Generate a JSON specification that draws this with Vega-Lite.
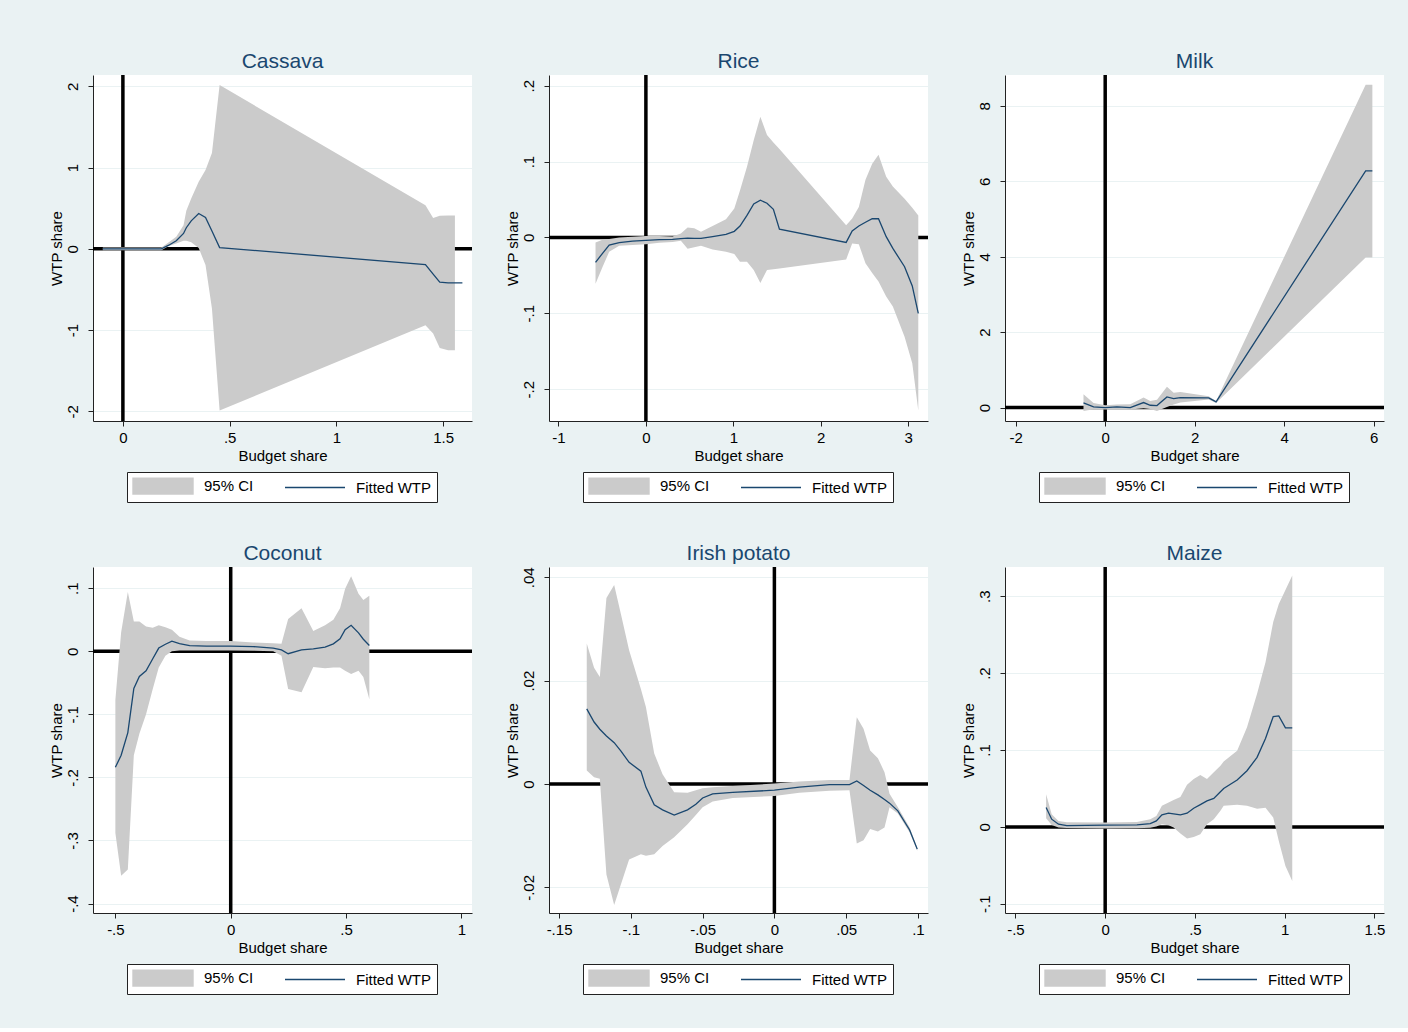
{
  "$schema": "https://vega.github.io/schema/vega-lite/v6.json",
  "background": "#eaf2f3",
  "padding": {"left": 49, "top": 51, "right": 24, "bottom": 33},
  "config": {
    "font": "Liberation Sans",
    "view": {"fill": "white", "stroke": null},
    "axis": {"labelFontSize": 15, "titleFontSize": 15, "titleFontWeight": "normal", "labelColor": "black", "titleColor": "black", "domainColor": "#222222", "tickColor": "#222222", "tickSize": 5, "gridColor": "#eaf2f3", "labelPadding": 4, "titlePadding": 3, "labelFlush": false, "labelOverlap": false},
    "axisX": {"grid": false},
    "axisY": {"grid": true, "labelAngle": -90, "labelAlign": "center", "labelBaseline": "bottom", "labelPadding": 8, "titlePadding": 1},
    "title": {"fontSize": 21, "fontWeight": "normal", "color": "#1a476f", "offset": 1, "anchor": "middle", "frame": "group"},
    "legend": {"orient": "none", "legendX": 34, "legendY": 397, "direction": "horizontal", "title": null, "strokeColor": "#222222", "fillColor": "white", "padding": 5, "labelFontSize": 15, "labelColor": "black", "labelOffset": 54, "columnPadding": 28, "symbolSize": 256}
  },
  "datasets": {
    "cassava": [
      {"x": -0.094, "fit": 0, "lo": -0.016, "hi": 0.016},
      {"x": 0.0, "fit": 0, "lo": -0.016, "hi": 0.016},
      {"x": 0.09, "fit": 0, "lo": -0.016, "hi": 0.016},
      {"x": 0.18, "fit": 0, "lo": -0.016, "hi": 0.016},
      {"x": 0.215, "fit": 0.045, "lo": 0.035, "hi": 0.08},
      {"x": 0.25, "fit": 0.1, "lo": 0.066, "hi": 0.15},
      {"x": 0.284, "fit": 0.19, "lo": 0.1, "hi": 0.29},
      {"x": 0.297, "fit": 0.26, "lo": 0.1, "hi": 0.47},
      {"x": 0.32, "fit": 0.345, "lo": 0.08, "hi": 0.62},
      {"x": 0.355, "fit": 0.435, "lo": 0.01, "hi": 0.825},
      {"x": 0.387, "fit": 0.386, "lo": -0.2, "hi": 0.97},
      {"x": 0.417, "fit": 0.22, "lo": -0.735, "hi": 1.18},
      {"x": 0.453, "fit": 0.016, "lo": -1.99, "hi": 2.015},
      {"x": 1.417, "fit": -0.193, "lo": -0.94, "hi": 0.538},
      {"x": 1.453, "fit": -0.312, "lo": -1.04, "hi": 0.38},
      {"x": 1.484, "fit": -0.41, "lo": -1.22, "hi": 0.406},
      {"x": 1.523, "fit": -0.419, "lo": -1.248, "hi": 0.41},
      {"x": 1.555, "fit": -0.419, "lo": -1.248, "hi": 0.41},
      {"x": 1.59, "fit": -0.419, "lo": null, "hi": null}
    ],
    "rice": [
      {"x": -0.576, "fit": -0.033, "lo": -0.061, "hi": -0.0066},
      {"x": -0.496, "fit": -0.021, "lo": -0.039, "hi": -0.003},
      {"x": -0.42, "fit": -0.010, "lo": -0.019, "hi": -0.002},
      {"x": -0.305, "fit": -0.007, "lo": -0.011, "hi": 0.000},
      {"x": -0.153, "fit": -0.005, "lo": -0.010, "hi": 0.001},
      {"x": 0, "fit": -0.004, "lo": -0.009, "hi": 0.002},
      {"x": 0.153, "fit": -0.003, "lo": -0.007, "hi": 0.0018},
      {"x": 0.305, "fit": -0.0026, "lo": -0.006, "hi": 0.0013},
      {"x": 0.4, "fit": -0.0015, "lo": -0.0044, "hi": 0.005},
      {"x": 0.477, "fit": -0.001, "lo": -0.015, "hi": 0.013},
      {"x": 0.553, "fit": -0.0012, "lo": -0.013, "hi": 0.012},
      {"x": 0.63, "fit": -0.0013, "lo": -0.011, "hi": 0.0075},
      {"x": 0.763, "fit": 0.001, "lo": -0.016, "hi": 0.015},
      {"x": 0.916, "fit": 0.004, "lo": -0.019, "hi": 0.024},
      {"x": 1.011, "fit": 0.008, "lo": -0.022, "hi": 0.038},
      {"x": 1.076, "fit": 0.015, "lo": -0.032, "hi": 0.062},
      {"x": 1.156, "fit": 0.029, "lo": -0.032, "hi": 0.093},
      {"x": 1.233, "fit": 0.044, "lo": -0.043, "hi": 0.128},
      {"x": 1.309, "fit": 0.049, "lo": -0.060, "hi": 0.159},
      {"x": 1.385, "fit": 0.045, "lo": -0.043, "hi": 0.135},
      {"x": 1.458, "fit": 0.037, "lo": -0.042, "hi": 0.125},
      {"x": 1.527, "fit": 0.011, "lo": -0.041, "hi": 0.1165},
      {"x": 2.29, "fit": -0.0066, "lo": -0.029, "hi": 0.016},
      {"x": 2.359, "fit": 0.0084, "lo": -0.008, "hi": 0.025},
      {"x": 2.435, "fit": 0.015, "lo": -0.009, "hi": 0.040},
      {"x": 2.511, "fit": 0.020, "lo": -0.034, "hi": 0.076},
      {"x": 2.588, "fit": 0.0246, "lo": -0.047, "hi": 0.097},
      {"x": 2.66, "fit": 0.0246, "lo": -0.058, "hi": 0.109},
      {"x": 2.748, "fit": 0.001, "lo": -0.078, "hi": 0.080},
      {"x": 2.824, "fit": -0.0145, "lo": -0.091, "hi": 0.067},
      {"x": 2.958, "fit": -0.0387, "lo": -0.131, "hi": 0.051},
      {"x": 3.046, "fit": -0.064, "lo": -0.166, "hi": 0.039},
      {"x": 3.115, "fit": -0.100, "lo": -0.228, "hi": 0.029}
    ],
    "milk": [
      {"x": -0.485, "fit": 0.124, "lo": -0.088, "hi": 0.354},
      {"x": -0.26, "fit": 0.018, "lo": -0.044, "hi": 0.124},
      {"x": 0, "fit": 0, "lo": -0.053, "hi": 0.062},
      {"x": 0.26, "fit": 0.018, "lo": -0.05, "hi": 0.08},
      {"x": 0.56, "fit": 0, "lo": -0.053, "hi": 0.088},
      {"x": 0.858, "fit": 0.133, "lo": -0.018, "hi": 0.265},
      {"x": 1.007, "fit": 0.062, "lo": -0.035, "hi": 0.177},
      {"x": 1.157, "fit": 0.053, "lo": -0.088, "hi": 0.21},
      {"x": 1.38, "fit": 0.283, "lo": 0.018, "hi": 0.55},
      {"x": 1.53, "fit": 0.239, "lo": 0.08, "hi": 0.39},
      {"x": 1.68, "fit": 0.265, "lo": 0.133, "hi": 0.41},
      {"x": 2.313, "fit": 0.257, "lo": 0.212, "hi": 0.30},
      {"x": 2.478, "fit": 0.150, "lo": 0.124, "hi": 0.177},
      {"x": 5.82, "fit": 6.28, "lo": 3.98, "hi": 8.56},
      {"x": 5.97, "fit": 6.28, "lo": 3.98, "hi": 8.56}
    ],
    "coconut": [
      {"x": -0.5, "fit": -0.184, "lo": -0.288, "hi": -0.077},
      {"x": -0.475, "fit": -0.165, "lo": -0.356, "hi": 0.030},
      {"x": -0.446, "fit": -0.129, "lo": -0.346, "hi": 0.094},
      {"x": -0.42, "fit": -0.059, "lo": -0.165, "hi": 0.047},
      {"x": -0.396, "fit": -0.040, "lo": -0.131, "hi": 0.047},
      {"x": -0.367, "fit": -0.031, "lo": -0.100, "hi": 0.039},
      {"x": -0.338, "fit": -0.012, "lo": -0.060, "hi": 0.037},
      {"x": -0.312, "fit": 0.005, "lo": -0.026, "hi": 0.041},
      {"x": -0.283, "fit": 0.011, "lo": -0.007, "hi": 0.038},
      {"x": -0.255, "fit": 0.016, "lo": 0.000, "hi": 0.034},
      {"x": -0.222, "fit": 0.012, "lo": 0.001, "hi": 0.023},
      {"x": -0.178, "fit": 0.009, "lo": 0.001, "hi": 0.017},
      {"x": -0.106, "fit": 0.008, "lo": 0.001, "hi": 0.016},
      {"x": 0, "fit": 0.008, "lo": 0.001, "hi": 0.016},
      {"x": 0.097, "fit": 0.0074, "lo": 0.0008, "hi": 0.014},
      {"x": 0.184, "fit": 0.005, "lo": 0.000, "hi": 0.0127},
      {"x": 0.22, "fit": 0.002, "lo": -0.007, "hi": 0.0117},
      {"x": 0.249, "fit": -0.004, "lo": -0.060, "hi": 0.051},
      {"x": 0.307, "fit": 0.002, "lo": -0.065, "hi": 0.068},
      {"x": 0.358, "fit": 0.0037, "lo": -0.025, "hi": 0.032},
      {"x": 0.409, "fit": 0.0064, "lo": -0.027, "hi": 0.041},
      {"x": 0.445, "fit": 0.0117, "lo": -0.026, "hi": 0.050},
      {"x": 0.474, "fit": 0.0196, "lo": -0.026, "hi": 0.068},
      {"x": 0.496, "fit": 0.034, "lo": -0.031, "hi": 0.099},
      {"x": 0.522, "fit": 0.041, "lo": -0.036, "hi": 0.119},
      {"x": 0.554, "fit": 0.029, "lo": -0.031, "hi": 0.091},
      {"x": 0.575, "fit": 0.019, "lo": -0.041, "hi": 0.081},
      {"x": 0.601, "fit": 0.009, "lo": -0.076, "hi": 0.088}
    ],
    "potato": [
      {"x": -0.1307, "fit": 0.01455, "lo": 0.0026, "hi": 0.0272},
      {"x": -0.1256, "fit": 0.012, "lo": 0.0013, "hi": 0.0225},
      {"x": -0.1216, "fit": 0.0106, "lo": 0.001, "hi": 0.0207},
      {"x": -0.117, "fit": 0.0093, "lo": -0.0175, "hi": 0.036},
      {"x": -0.1116, "fit": 0.0080, "lo": -0.0234, "hi": 0.0385},
      {"x": -0.107, "fit": 0.0064, "lo": -0.0195, "hi": 0.033},
      {"x": -0.1012, "fit": 0.0042, "lo": -0.0146, "hi": 0.0259},
      {"x": -0.093, "fit": 0.0025, "lo": -0.0136, "hi": 0.0184},
      {"x": -0.0895, "fit": -0.0006, "lo": -0.0139, "hi": 0.0149},
      {"x": -0.0837, "fit": -0.004, "lo": -0.0136, "hi": 0.0059},
      {"x": -0.0779, "fit": -0.005, "lo": -0.012, "hi": 0.0019},
      {"x": -0.0698, "fit": -0.006, "lo": -0.0103, "hi": -0.0016},
      {"x": -0.0605, "fit": -0.005, "lo": -0.0078, "hi": -0.0017},
      {"x": -0.0547, "fit": -0.0039, "lo": -0.006, "hi": -0.0012},
      {"x": -0.05, "fit": -0.0027, "lo": -0.0045, "hi": -0.0008},
      {"x": -0.043, "fit": -0.0019, "lo": -0.0034, "hi": -0.0006},
      {"x": -0.029, "fit": -0.0016, "lo": -0.0027, "hi": -0.0004},
      {"x": 0, "fit": -0.0012, "lo": -0.0023, "hi": 0.0001},
      {"x": 0.0174, "fit": -0.0006, "lo": -0.0017, "hi": 0.0005},
      {"x": 0.0384, "fit": -0.0001, "lo": -0.0013, "hi": 0.0008},
      {"x": 0.0523, "fit": -0.0001, "lo": -0.0012, "hi": 0.0008},
      {"x": 0.0574, "fit": 0.0006, "lo": -0.0115, "hi": 0.0129},
      {"x": 0.0621, "fit": -0.0003, "lo": -0.0109, "hi": 0.0107},
      {"x": 0.0667, "fit": -0.0012, "lo": -0.0087, "hi": 0.0065},
      {"x": 0.0721, "fit": -0.0021, "lo": -0.0092, "hi": 0.005},
      {"x": 0.0767, "fit": -0.003, "lo": -0.0084, "hi": 0.0023},
      {"x": 0.0802, "fit": -0.0037, "lo": -0.0045, "hi": -0.0019},
      {"x": 0.086, "fit": -0.0052, "lo": -0.0057, "hi": -0.0045},
      {"x": 0.0942, "fit": -0.0089, "lo": -0.0094, "hi": -0.0084},
      {"x": 0.0995, "fit": -0.0126, "lo": -0.0129, "hi": -0.0123}
    ],
    "maize": [
      {"x": -0.329, "fit": 0.0252, "lo": 0.0113, "hi": 0.0426},
      {"x": -0.298, "fit": 0.010, "lo": 0.0026, "hi": 0.0165},
      {"x": -0.26, "fit": 0.0035, "lo": -0.0009, "hi": 0.0078},
      {"x": -0.214, "fit": 0.0017, "lo": -0.0015, "hi": 0.006},
      {"x": 0, "fit": 0.0022, "lo": -0.0022, "hi": 0.0057},
      {"x": 0.177, "fit": 0.0026, "lo": -0.0017, "hi": 0.0065},
      {"x": 0.251, "fit": 0.0043, "lo": -0.001, "hi": 0.010},
      {"x": 0.285, "fit": 0.0078, "lo": 0.0005, "hi": 0.0143},
      {"x": 0.316, "fit": 0.0157, "lo": 0.0035, "hi": 0.0274},
      {"x": 0.353, "fit": 0.0178, "lo": 0.002, "hi": 0.0317},
      {"x": 0.381, "fit": 0.017, "lo": -0.0009, "hi": 0.035},
      {"x": 0.419, "fit": 0.0157, "lo": -0.0087, "hi": 0.039},
      {"x": 0.456, "fit": 0.0178, "lo": -0.0152, "hi": 0.0548},
      {"x": 0.493, "fit": 0.0243, "lo": -0.013, "hi": 0.0622},
      {"x": 0.53, "fit": 0.029, "lo": -0.0095, "hi": 0.0674},
      {"x": 0.567, "fit": 0.0339, "lo": 0.0035, "hi": 0.0622},
      {"x": 0.605, "fit": 0.037, "lo": 0.010, "hi": 0.071},
      {"x": 0.642, "fit": 0.0457, "lo": 0.021, "hi": 0.0796},
      {"x": 0.66, "fit": 0.050, "lo": 0.0274, "hi": 0.085},
      {"x": 0.735, "fit": 0.0609, "lo": 0.0287, "hi": 0.099},
      {"x": 0.79, "fit": 0.073, "lo": 0.0274, "hi": 0.1296},
      {"x": 0.846, "fit": 0.0904, "lo": 0.0235, "hi": 0.173},
      {"x": 0.893, "fit": 0.115, "lo": 0.025, "hi": 0.214},
      {"x": 0.936, "fit": 0.1435, "lo": 0.0122, "hi": 0.2665},
      {"x": 0.967, "fit": 0.1443, "lo": -0.0183, "hi": 0.290},
      {"x": 1.004, "fit": 0.1287, "lo": -0.0509, "hi": 0.308},
      {"x": 1.042, "fit": 0.1287, "lo": -0.0704, "hi": 0.327}
    ]
  },
  "columns": 3,
  "spacing": {"row": 40, "column": 31},
  "resolve": {"scale": {"color": "independent", "x": "independent", "y": "independent"}, "legend": {"color": "independent"}},
  "concat": [
    {
      "title": "Cassava", "width": 379, "height": 346, "data": {"name": "cassava"},
      "layer": [
        {"data": {"values": [{}]}, "mark": {"type": "rule", "color": "black", "strokeWidth": 3.5}, "encoding": {"x": {"datum": 0, "type": "quantitative", "scale": {"domain": [-0.14, 1.635], "nice": false, "zero": false}, "axis": {"values": [0, 0.5, 1, 1.5], "title": "Budget share", "labelExpr": "replace(toString(datum.value), '0.', '.')"}}}},
        {"data": {"values": [{}]}, "mark": {"type": "rule", "color": "black", "strokeWidth": 3.5}, "encoding": {"y": {"datum": 0, "type": "quantitative", "scale": {"domain": [-2.118, 2.139], "nice": false, "zero": false}, "axis": {"values": [-2, -1, 0, 1, 2], "title": "WTP share", "labelExpr": "replace(toString(datum.value), '0.', '.')"}}}},
        {"mark": {"type": "area"}, "encoding": {
          "x": {"field": "x", "type": "quantitative", "title": "Budget share"},
          "y": {"field": "lo", "type": "quantitative", "title": "WTP share"},
          "y2": {"field": "hi"},
          "color": {"datum": "95% CI", "type": "nominal", "scale": {"domain": ["95% CI", "Fitted WTP"], "range": ["#cbcbcb", "#1a476f"]}, "legend": {"encode": {"symbols": {"update": {"shape": {"signal": "datum.value === '95% CI' ? 'M-1,-1H6.5V1H-1Z' : 'M-1,0H6.5'"}, "fill": {"signal": "datum.value === '95% CI' ? '#cbcbcb' : 'transparent'"}, "stroke": {"signal": "datum.value === '95% CI' ? 'transparent' : '#1a476f'"}, "strokeWidth": {"value": 1.4}, "opacity": {"value": 1}}}}}}
        }},
        {"mark": {"type": "line", "strokeWidth": 1.3}, "encoding": {
          "x": {"field": "x", "type": "quantitative", "title": "Budget share"},
          "y": {"field": "fit", "type": "quantitative", "title": "WTP share"},
          "color": {"datum": "Fitted WTP", "type": "nominal"}
        }}
      ]
    },
    {
      "title": "Rice", "width": 379, "height": 346, "data": {"name": "rice"},
      "layer": [
        {"data": {"values": [{}]}, "mark": {"type": "rule", "color": "black", "strokeWidth": 3.5}, "encoding": {"x": {"datum": 0, "type": "quantitative", "scale": {"domain": [-1.108, 3.226], "nice": false, "zero": false}, "axis": {"values": [-1, 0, 1, 2, 3], "title": "Budget share", "labelExpr": "replace(toString(datum.value), '0.', '.')"}}}},
        {"data": {"values": [{}]}, "mark": {"type": "rule", "color": "black", "strokeWidth": 3.5}, "encoding": {"y": {"datum": 0, "type": "quantitative", "scale": {"domain": [-0.242, 0.2141], "nice": false, "zero": false}, "axis": {"values": [-0.2, -0.1, 0, 0.1, 0.2], "title": "WTP share", "labelExpr": "replace(toString(datum.value), '0.', '.')"}}}},
        {"mark": {"type": "area"}, "encoding": {
          "x": {"field": "x", "type": "quantitative", "title": "Budget share"},
          "y": {"field": "lo", "type": "quantitative", "title": "WTP share"},
          "y2": {"field": "hi"},
          "color": {"datum": "95% CI", "type": "nominal", "scale": {"domain": ["95% CI", "Fitted WTP"], "range": ["#cbcbcb", "#1a476f"]}, "legend": {"encode": {"symbols": {"update": {"shape": {"signal": "datum.value === '95% CI' ? 'M-1,-1H6.5V1H-1Z' : 'M-1,0H6.5'"}, "fill": {"signal": "datum.value === '95% CI' ? '#cbcbcb' : 'transparent'"}, "stroke": {"signal": "datum.value === '95% CI' ? 'transparent' : '#1a476f'"}, "strokeWidth": {"value": 1.4}, "opacity": {"value": 1}}}}}}
        }},
        {"mark": {"type": "line", "strokeWidth": 1.3}, "encoding": {
          "x": {"field": "x", "type": "quantitative", "title": "Budget share"},
          "y": {"field": "fit", "type": "quantitative", "title": "WTP share"},
          "color": {"datum": "Fitted WTP", "type": "nominal"}
        }}
      ]
    },
    {
      "title": "Milk", "width": 379, "height": 346, "data": {"name": "milk"},
      "layer": [
        {"data": {"values": [{}]}, "mark": {"type": "rule", "color": "black", "strokeWidth": 3.5}, "encoding": {"x": {"datum": 0, "type": "quantitative", "scale": {"domain": [-2.239, 6.23], "nice": false, "zero": false}, "axis": {"values": [-2, 0, 2, 4, 6], "title": "Budget share", "labelExpr": "replace(toString(datum.value), '0.', '.')"}}}},
        {"data": {"values": [{}]}, "mark": {"type": "rule", "color": "black", "strokeWidth": 3.5}, "encoding": {"y": {"datum": 0, "type": "quantitative", "scale": {"domain": [-0.356, 8.82], "nice": false, "zero": false}, "axis": {"values": [0, 2, 4, 6, 8], "title": "WTP share", "labelExpr": "replace(toString(datum.value), '0.', '.')"}}}},
        {"mark": {"type": "area"}, "encoding": {
          "x": {"field": "x", "type": "quantitative", "title": "Budget share"},
          "y": {"field": "lo", "type": "quantitative", "title": "WTP share"},
          "y2": {"field": "hi"},
          "color": {"datum": "95% CI", "type": "nominal", "scale": {"domain": ["95% CI", "Fitted WTP"], "range": ["#cbcbcb", "#1a476f"]}, "legend": {"encode": {"symbols": {"update": {"shape": {"signal": "datum.value === '95% CI' ? 'M-1,-1H6.5V1H-1Z' : 'M-1,0H6.5'"}, "fill": {"signal": "datum.value === '95% CI' ? '#cbcbcb' : 'transparent'"}, "stroke": {"signal": "datum.value === '95% CI' ? 'transparent' : '#1a476f'"}, "strokeWidth": {"value": 1.4}, "opacity": {"value": 1}}}}}}
        }},
        {"mark": {"type": "line", "strokeWidth": 1.3}, "encoding": {
          "x": {"field": "x", "type": "quantitative", "title": "Budget share"},
          "y": {"field": "fit", "type": "quantitative", "title": "WTP share"},
          "color": {"datum": "Fitted WTP", "type": "nominal"}
        }}
      ]
    },
    {
      "title": "Coconut", "width": 379, "height": 346, "data": {"name": "coconut"},
      "layer": [
        {"data": {"values": [{}]}, "mark": {"type": "rule", "color": "black", "strokeWidth": 3.5}, "encoding": {"x": {"datum": 0, "type": "quantitative", "scale": {"domain": [-0.597, 1.046], "nice": false, "zero": false}, "axis": {"values": [-0.5, 0, 0.5, 1], "title": "Budget share", "labelExpr": "replace(toString(datum.value), '0.', '.')"}}}},
        {"data": {"values": [{}]}, "mark": {"type": "rule", "color": "black", "strokeWidth": 3.5}, "encoding": {"y": {"datum": 0, "type": "quantitative", "scale": {"domain": [-0.415, 0.1335], "nice": false, "zero": false}, "axis": {"values": [-0.4, -0.3, -0.2, -0.1, 0, 0.1], "title": "WTP share", "labelExpr": "replace(toString(datum.value), '0.', '.')"}}}},
        {"mark": {"type": "area"}, "encoding": {
          "x": {"field": "x", "type": "quantitative", "title": "Budget share"},
          "y": {"field": "lo", "type": "quantitative", "title": "WTP share"},
          "y2": {"field": "hi"},
          "color": {"datum": "95% CI", "type": "nominal", "scale": {"domain": ["95% CI", "Fitted WTP"], "range": ["#cbcbcb", "#1a476f"]}, "legend": {"encode": {"symbols": {"update": {"shape": {"signal": "datum.value === '95% CI' ? 'M-1,-1H6.5V1H-1Z' : 'M-1,0H6.5'"}, "fill": {"signal": "datum.value === '95% CI' ? '#cbcbcb' : 'transparent'"}, "stroke": {"signal": "datum.value === '95% CI' ? 'transparent' : '#1a476f'"}, "strokeWidth": {"value": 1.4}, "opacity": {"value": 1}}}}}}
        }},
        {"mark": {"type": "line", "strokeWidth": 1.3}, "encoding": {
          "x": {"field": "x", "type": "quantitative", "title": "Budget share"},
          "y": {"field": "fit", "type": "quantitative", "title": "WTP share"},
          "color": {"datum": "Fitted WTP", "type": "nominal"}
        }}
      ]
    },
    {
      "title": "Irish potato", "width": 379, "height": 346, "data": {"name": "potato"},
      "layer": [
        {"data": {"values": [{}]}, "mark": {"type": "rule", "color": "black", "strokeWidth": 3.5}, "encoding": {"x": {"datum": 0, "type": "quantitative", "scale": {"domain": [-0.157, 0.107], "nice": false, "zero": false}, "axis": {"values": [-0.15, -0.1, -0.05, 0, 0.05, 0.1], "title": "Budget share", "labelExpr": "replace(toString(datum.value), '0.', '.')"}}}},
        {"data": {"values": [{}]}, "mark": {"type": "rule", "color": "black", "strokeWidth": 3.5}, "encoding": {"y": {"datum": 0, "type": "quantitative", "scale": {"domain": [-0.02496, 0.042], "nice": false, "zero": false}, "axis": {"values": [-0.02, 0, 0.02, 0.04], "title": "WTP share", "labelExpr": "replace(toString(datum.value), '0.', '.')"}}}},
        {"mark": {"type": "area"}, "encoding": {
          "x": {"field": "x", "type": "quantitative", "title": "Budget share"},
          "y": {"field": "lo", "type": "quantitative", "title": "WTP share"},
          "y2": {"field": "hi"},
          "color": {"datum": "95% CI", "type": "nominal", "scale": {"domain": ["95% CI", "Fitted WTP"], "range": ["#cbcbcb", "#1a476f"]}, "legend": {"encode": {"symbols": {"update": {"shape": {"signal": "datum.value === '95% CI' ? 'M-1,-1H6.5V1H-1Z' : 'M-1,0H6.5'"}, "fill": {"signal": "datum.value === '95% CI' ? '#cbcbcb' : 'transparent'"}, "stroke": {"signal": "datum.value === '95% CI' ? 'transparent' : '#1a476f'"}, "strokeWidth": {"value": 1.4}, "opacity": {"value": 1}}}}}}
        }},
        {"mark": {"type": "line", "strokeWidth": 1.3}, "encoding": {
          "x": {"field": "x", "type": "quantitative", "title": "Budget share"},
          "y": {"field": "fit", "type": "quantitative", "title": "WTP share"},
          "color": {"datum": "Fitted WTP", "type": "nominal"}
        }}
      ]
    },
    {
      "title": "Maize", "width": 379, "height": 346, "data": {"name": "maize"},
      "layer": [
        {"data": {"values": [{}]}, "mark": {"type": "rule", "color": "black", "strokeWidth": 3.5}, "encoding": {"x": {"datum": 0, "type": "quantitative", "scale": {"domain": [-0.558, 1.553], "nice": false, "zero": false}, "axis": {"values": [-0.5, 0, 0.5, 1, 1.5], "title": "Budget share", "labelExpr": "replace(toString(datum.value), '0.', '.')"}}}},
        {"data": {"values": [{}]}, "mark": {"type": "rule", "color": "black", "strokeWidth": 3.5}, "encoding": {"y": {"datum": 0, "type": "quantitative", "scale": {"domain": [-0.112, 0.338], "nice": false, "zero": false}, "axis": {"values": [-0.1, 0, 0.1, 0.2, 0.3], "title": "WTP share", "labelExpr": "replace(toString(datum.value), '0.', '.')"}}}},
        {"mark": {"type": "area"}, "encoding": {
          "x": {"field": "x", "type": "quantitative", "title": "Budget share"},
          "y": {"field": "lo", "type": "quantitative", "title": "WTP share"},
          "y2": {"field": "hi"},
          "color": {"datum": "95% CI", "type": "nominal", "scale": {"domain": ["95% CI", "Fitted WTP"], "range": ["#cbcbcb", "#1a476f"]}, "legend": {"encode": {"symbols": {"update": {"shape": {"signal": "datum.value === '95% CI' ? 'M-1,-1H6.5V1H-1Z' : 'M-1,0H6.5'"}, "fill": {"signal": "datum.value === '95% CI' ? '#cbcbcb' : 'transparent'"}, "stroke": {"signal": "datum.value === '95% CI' ? 'transparent' : '#1a476f'"}, "strokeWidth": {"value": 1.4}, "opacity": {"value": 1}}}}}}
        }},
        {"mark": {"type": "line", "strokeWidth": 1.3}, "encoding": {
          "x": {"field": "x", "type": "quantitative", "title": "Budget share"},
          "y": {"field": "fit", "type": "quantitative", "title": "WTP share"},
          "color": {"datum": "Fitted WTP", "type": "nominal"}
        }}
      ]
    }
  ]
}
